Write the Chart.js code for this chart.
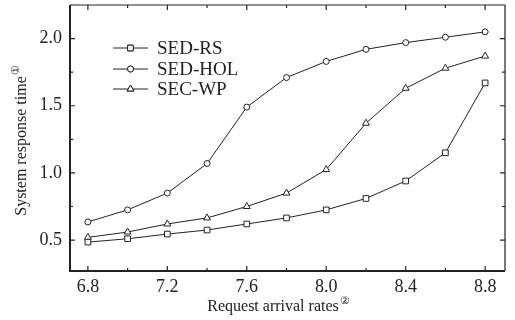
<!DOCTYPE html>
<html>
<head>
<meta charset="utf-8">
<script src="https://cdn.jsdelivr.net/npm/chart.js@4"></script>
<style>
  html, body { margin: 0; padding: 0; background: #fff; }
  #wrap { width: 515px; height: 320px; }
</style>
</head>
<body>
<div id="wrap"><canvas id="chart" width="515" height="320"></canvas></div>
<script>
// arrival rates (x axis)
const rates = [6.8, 7.0, 7.2, 7.4, 7.6, 7.8, 8.0, 8.2, 8.4, 8.6, 8.8];
// response time per method
const sedRS = [0.485, 0.51, 0.545, 0.575, 0.62, 0.665, 0.725, 0.81, 0.94, 1.15, 1.67];
const sedHOL = [0.635, 0.725, 0.85, 1.07, 1.49, 1.71, 1.83, 1.92, 1.97, 2.01, 2.05];
const secWP = [0.52, 0.56, 0.62, 0.665, 0.75, 0.85, 1.025, 1.37, 1.63, 1.78, 1.87];
const seriesNames = ['SED-RS', 'SED-HOL', 'SEC-WP'];
const xTicks = [6.8, 7.2, 7.6, 8.0, 8.4, 8.8];
const yTicks = [0.5, 1.0, 1.5, 2.0];

const serif = '"Liberation Serif", "Times New Roman", "DejaVu Serif", serif';
const ink = '#222';

const toPoints = vals => vals.map((v, i) => ({ x: rates[i], y: v }));

function makeSet(label, vals, style, r) {
    return {
        label: label,
        data: toPoints(vals),
        borderColor: ink,
        borderWidth: 1,
        pointStyle: style,
        pointRadius: r,
        pointBackgroundColor: '#fff',
        pointBorderColor: ink,
        pointBorderWidth: 1,
        tension: 0
    };
}

// frame, inward ticks, legend and axis titles
const decor = {
    id: 'decor',
    afterDraw(chart) {
        const ctx = chart.ctx;
        const a = chart.chartArea;
        const xs = chart.scales.x, ys = chart.scales.y;
        ctx.save();
        ctx.strokeStyle = ink;

        // frame
        ctx.lineWidth = 1.2;
        ctx.beginPath();
        ctx.moveTo(a.left, a.top); ctx.lineTo(a.right, a.top); ctx.lineTo(a.right, a.bottom);
        ctx.stroke();
        ctx.lineWidth = 2;
        ctx.beginPath();
        ctx.moveTo(a.left, a.top); ctx.lineTo(a.left, a.bottom); ctx.lineTo(a.right, a.bottom);
        ctx.stroke();

        // ticks pointing in
        ctx.lineWidth = 1.2;
        for (let v = 6.8; v <= 8.81; v += 0.2) {
            const px = xs.getPixelForValue(v);
            const len = xTicks.some(t => Math.abs(t - v) < 1e-6) ? 5 : 3;
            ctx.beginPath();
            ctx.moveTo(px, a.bottom); ctx.lineTo(px, a.bottom - len);
            ctx.moveTo(px, a.top); ctx.lineTo(px, a.top + len);
            ctx.stroke();
        }
        for (let v = 0.5; v <= 2.01; v += 0.25) {
            const py = ys.getPixelForValue(v);
            const len = yTicks.some(t => Math.abs(t - v) < 1e-6) ? 5 : 3;
            ctx.beginPath();
            ctx.moveTo(a.left, py); ctx.lineTo(a.left + len, py);
            ctx.moveTo(a.right, py); ctx.lineTo(a.right - len, py);
            ctx.stroke();
        }

        // legend inside the plot
        const lx0 = 113, lx1 = 148, tx = 157;
        const rows = [48, 69, 89];
        chart.data.datasets.forEach((ds, i) => {
            const y = rows[i];
            ctx.strokeStyle = ink;
            ctx.lineWidth = 1;
            ctx.beginPath();
            ctx.moveTo(lx0, y); ctx.lineTo(lx1, y);
            ctx.stroke();
            ctx.fillStyle = '#fff';
            Chart.helpers.drawPoint(ctx, {
                pointStyle: ds.pointStyle, radius: ds.pointRadius, borderWidth: 1, rotation: 0
            }, (lx0 + lx1) / 2, y);
            ctx.fill();
            ctx.stroke();
            ctx.fillStyle = ink;
            ctx.font = '19px ' + serif;
            ctx.textBaseline = 'middle';
            ctx.textAlign = 'left';
            ctx.fillText(ds.label, tx, y + 1);
        });

        // x axis title with superscript mark
        ctx.fillStyle = ink;
        ctx.textBaseline = 'alphabetic';
        ctx.font = '16px ' + serif;
        const xt = 'Request arrival rates';
        const w = ctx.measureText(xt).width;
        const cx = 273;
        ctx.textAlign = 'left';
        ctx.fillText(xt, cx - w / 2, 311);
        ctx.font = '11px ' + serif;
        ctx.fillText('②', cx + w / 2 + 1, 304);

        // y axis title rotated
        ctx.save();
        ctx.translate(26, 146);
        ctx.rotate(-Math.PI / 2);
        ctx.font = '16px ' + serif;
        const yt = 'System response time';
        const yw = ctx.measureText(yt).width;
        ctx.fillText(yt, -yw / 2, 0);
        ctx.font = '11px ' + serif;
        ctx.fillText('①', yw / 2 + 1, -7);
        ctx.restore();

        ctx.restore();
    }
};

new Chart(document.getElementById('chart'), {
    type: 'line',
    data: {
        datasets: [
            makeSet(seriesNames[0], sedRS, 'rect', 4),
            makeSet(seriesNames[1], sedHOL, 'circle', 3),
            makeSet(seriesNames[2], secWP, 'triangle', 4)
        ]
    },
    options: {
        responsive: false,
        animation: false,
        layout: { padding: { left: 0, right: 10, top: 4, bottom: 0 } },
        plugins: { legend: { display: false }, tooltip: { enabled: false } },
        scales: {
            x: {
                type: 'linear',
                min: 6.71,
                max: 8.9,
                afterBuildTicks: s => { s.ticks = xTicks.map(v => ({ value: v })); },
                afterFit: s => { s.height = 49; s.paddingLeft = 0; s.paddingRight = 0; },
                grid: { display: false, drawTicks: false },
                border: { display: false },
                ticks: {
                    padding: 5,
                    color: ink,
                    font: { family: serif, size: 18 },
                    callback: v => v.toFixed(1)
                }
            },
            y: {
                min: 0.27,
                max: 2.25,
                afterBuildTicks: s => { s.ticks = yTicks.map(v => ({ value: v })); },
                afterFit: s => { s.width = 70; s.paddingTop = 0; s.paddingBottom = 0; },
                grid: { display: false, drawTicks: false },
                border: { display: false },
                ticks: {
                    padding: 8,
                    color: ink,
                    font: { family: serif, size: 18 },
                    callback: v => v.toFixed(1)
                }
            }
        }
    },
    plugins: [decor]
});
</script>
</body>
</html>
